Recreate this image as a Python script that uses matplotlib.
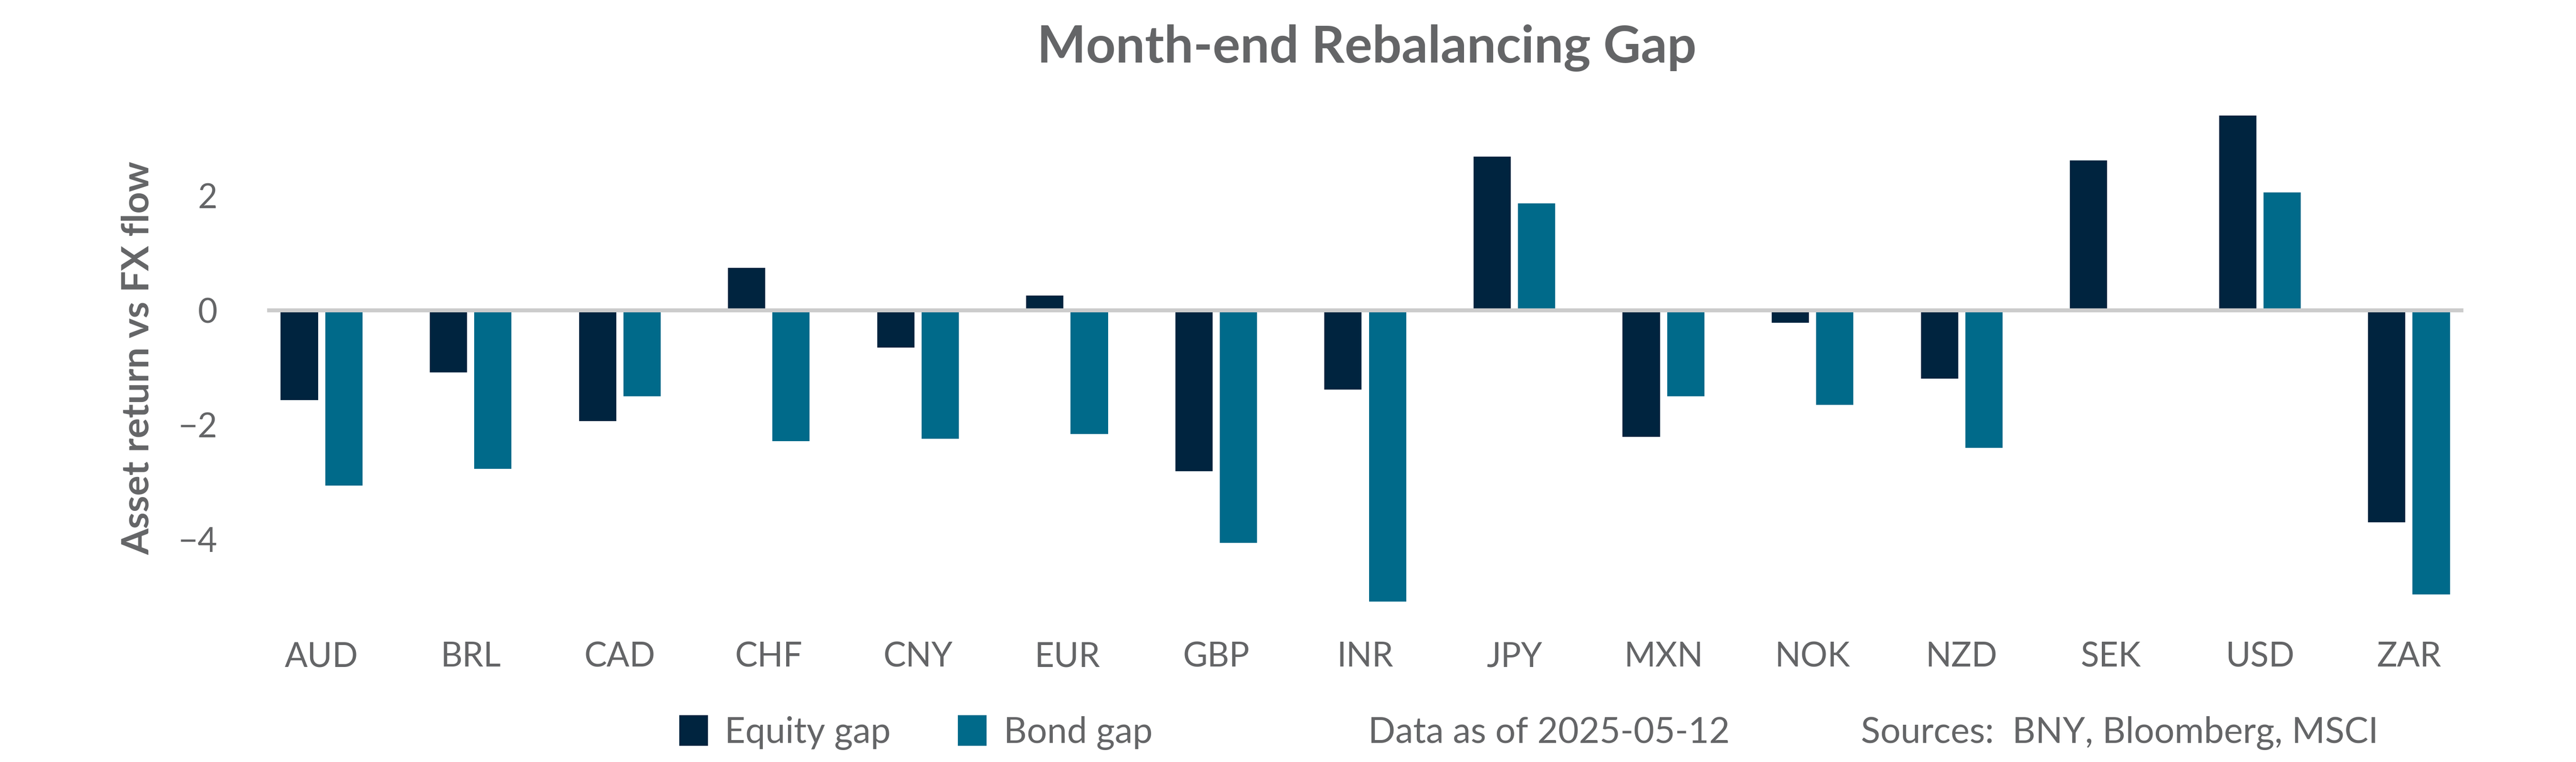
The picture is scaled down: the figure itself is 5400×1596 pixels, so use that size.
import numpy as np
import matplotlib
matplotlib.use("Agg")
import matplotlib.pyplot as plt
from matplotlib.patches import Patch

plt.rcParams['font.family'] = ['Lato', 'DejaVu Sans']

# ----------------------------------------------------------------------
#     data
# ----------------------------------------------------------------------
currencies = ['AUD', 'BRL', 'CAD', 'CHF', 'CNY', 'EUR', 'GBP', 'INR',
              'JPY', 'MXN', 'NOK', 'NZD', 'SEK', 'USD', 'ZAR']
equity_gap = [-1.57, -1.08, -1.93, 0.74, -0.65, 0.26, -2.81, -1.38,
              2.68, -2.21, -0.22, -1.19, 2.62, 3.40, -3.70]
bond_gap = [-3.06, -2.77, -1.50, -2.28, -2.24, -2.16, -4.06, -5.08,
            1.87, -1.50, -1.65, -2.40, np.nan, 2.06, -4.96]
y_ticks = [-4, -2, 0, 2]

EQUITY_COLOR = '#00243F'
BOND_COLOR = '#006A8A'
TEXT_COLOR = '#646567'
ZERO_COLOR = '#CCCCCC'

fig = plt.figure(figsize=(18, 5.32), dpi=300)
ax = fig.add_axes([0.1037, 0.1792, 0.8526, 0.7068])

x = np.arange(len(currencies))
width = 0.25
ax.bar(x - 0.149, equity_gap, width, color=EQUITY_COLOR, label='Equity gap', zorder=2)
ax.bar(x + 0.149, bond_gap, width, color=BOND_COLOR, label='Bond gap', zorder=2)
ax.axhline(0, color=ZERO_COLOR, linewidth=2, zorder=3)

ax.set_xlim(-0.365, len(currencies) - 1 + 0.365)
ax.set_ylim(-5.5, 3.9)
ax.set_xticks(x)
ax.set_xticklabels(currencies)
ax.set_yticks(y_ticks)
ax.set_yticklabels([str(t).replace('-', '\u2212') for t in y_ticks])
ax.tick_params(axis='both', length=0, labelsize=17, labelcolor=TEXT_COLOR)
ax.tick_params(axis='y', pad=25)
ax.tick_params(axis='x', pad=8)
for s in ax.spines.values():
    s.set_visible(False)

# title and axis label
fig.text(0.5306, 0.937, 'Month-end Rebalancing Gap', ha='center', va='center',
         fontsize=26, fontweight='bold', color=TEXT_COLOR)
fig.text(0.0537, 0.530, 'Asset return vs FX flow', rotation=90, ha='center', va='center',
         fontsize=19, fontweight='bold', color=TEXT_COLOR)

# legend and footnotes
handles = [Patch(color=EQUITY_COLOR), Patch(color=BOND_COLOR)]
fig.legend(handles, ['Equity gap', 'Bond gap'], loc='center left',
           bbox_to_anchor=(0.264, 0.038), ncol=2, frameon=False,
           fontsize=18, labelcolor=TEXT_COLOR, handlelength=0.75, handleheight=0.85,
           handletextpad=0.5, columnspacing=1.9, borderpad=0, borderaxespad=0)
fig.text(0.5311, 0.038, 'Data as of 2025-05-12', ha='left', va='center',
         fontsize=18, color=TEXT_COLOR)
fig.text(0.7224, 0.038, 'Sources:  BNY, Bloomberg, MSCI', ha='left', va='center',
         fontsize=18, color=TEXT_COLOR)

fig.savefig('out.png', dpi=300)
